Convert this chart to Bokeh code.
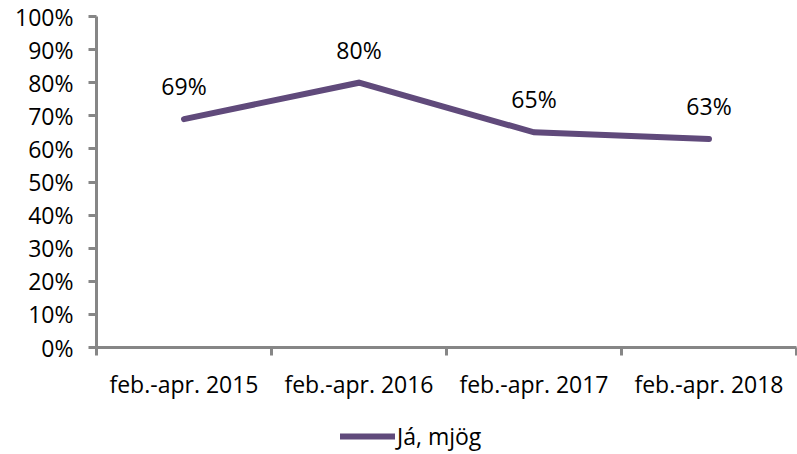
from bokeh.plotting import figure
from bokeh.models import FixedTicker, NumeralTickFormatter, Range1d, ColumnDataSource, Legend, LegendItem
from bokeh.layouts import column
from bokeh.core.properties import value
from bokeh.embed import file_html
from bokeh.resources import INLINE

categories = ["feb.-apr. 2015", "feb.-apr. 2016", "feb.-apr. 2017", "feb.-apr. 2018"]
values = [0.69, 0.80, 0.65, 0.63]
labels = ["69%", "80%", "65%", "63%"]
series_name = "Já, mjög"

FONT = "Open Sans"
FS = "23px"
AXIS_COLOR = "#868686"
LINE_COLOR = "#604A7B"

xs = [i + 0.5 for i in range(len(categories))]
src = ColumnDataSource(dict(x=xs, y=values, lab=labels))

p = figure(width=797, height=420, output_backend="svg", toolbar_location=None,
           x_range=Range1d(0, len(categories)), y_range=Range1d(0, 1))
p.min_border_left = 96
p.min_border_right = 1
p.min_border_top = 16
p.min_border_bottom = 73
p.outline_line_color = None
p.xgrid.visible = False
p.ygrid.visible = False
p.background_fill_color = "white"
p.border_fill_color = "white"

p.line("x", "y", source=src, line_color=LINE_COLOR, line_width=6, line_cap="round", line_join="miter")
p.text("x", "y", text="lab", source=src, text_font=value(FONT), text_font_size=FS,
       text_align="center", text_baseline="middle", y_offset=-33, text_color="black")

# x axis
xa = p.xaxis[0]
xa.ticker = FixedTicker(ticks=xs, minor_ticks=list(range(len(categories) + 1)))
xa.major_label_overrides = {x: c for x, c in zip(xs, categories)}
xa.major_tick_line_color = None
xa.minor_tick_line_color = AXIS_COLOR
xa.minor_tick_line_width = 3
xa.minor_tick_out = 8
xa.minor_tick_in = 0
xa.axis_line_color = AXIS_COLOR
xa.axis_line_width = 3
xa.major_label_text_font = FONT
xa.major_label_text_font_size = FS
xa.major_label_text_color = "black"
xa.major_label_standoff = 12

# y axis
ya = p.yaxis[0]
ya.ticker = FixedTicker(ticks=[i / 10 for i in range(11)])
ya.formatter = NumeralTickFormatter(format="0%")
ya.major_tick_line_color = AXIS_COLOR
ya.major_tick_line_width = 3
ya.major_tick_out = 8
ya.major_tick_in = 0
ya.minor_tick_line_color = None
ya.axis_line_color = AXIS_COLOR
ya.axis_line_width = 3
ya.major_label_text_font = FONT
ya.major_label_text_font_size = FS
ya.major_label_text_color = "black"
ya.major_label_standoff = 15

# legend row (series line kept out of view; only its legend entry shows)
lg = figure(width=797, height=34, output_backend="svg", toolbar_location=None,
            x_range=Range1d(0, 1), y_range=Range1d(10, 11), x_axis_type=None, y_axis_type=None)
lg.min_border = 0
lg.outline_line_color = None
lg.xgrid.visible = False
lg.ygrid.visible = False
lg.background_fill_color = "white"
lg.border_fill_color = "white"
leg_src = ColumnDataSource(dict(x=xs, y=values))
dummy = lg.line("x", "y", source=leg_src, line_color=LINE_COLOR, line_width=6, line_cap="round")
legend = Legend(items=[LegendItem(label=series_name, renderers=[dummy])], orientation="horizontal",
                location=(244, 2), border_line_color=None, background_fill_alpha=0,
                label_text_font=FONT, label_text_font_size=FS, label_text_color="black",
                glyph_width=55, glyph_height=20, label_standoff=2, padding=0, margin=0, spacing=0)
lg.add_layout(legend, "center")

layout = column(p, lg, spacing=0)
open("out.html", "w").write(file_html(layout, INLINE))
